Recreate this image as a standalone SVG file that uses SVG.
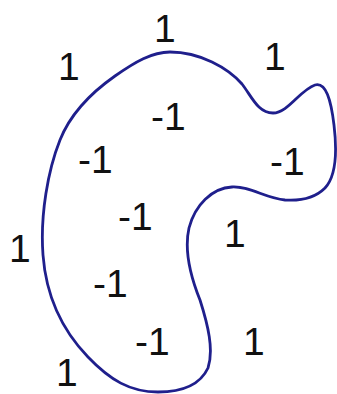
<svg xmlns="http://www.w3.org/2000/svg" width="337" height="394" viewBox="0 0 337 394">
<style>
.lbl{font-family:"Liberation Sans",sans-serif;font-size:39px;fill:#111}
.curve{fill:none;stroke:#1f1f8c;stroke-width:2.8;stroke-linejoin:round}
</style>
<rect width="337" height="394" fill="#ffffff"/>
<g id="connectors">
<path id="boundary" class="curve" d="M170,52 C200,52 228,68 242,84 C252,97 258,113 273,113 C288,113 300,90 315,85 C326,82 331,100 334,125 C337,150 337,175 325,188 C315,198 300,201 285,200 C265,198 250,186 232,187 C212,188 195,205 189,228 C184,250 190,275 200,300 C208,325 214,350 208,368 C200,385 182,392 158,392 C130,392 110,380 88,357 C62,330 46,295 43,255 C40,215 48,170 60,140 C72,110 95,90 115,76 C135,62 152,52 170,52 Z"/>
</g>
<g id="n1"><text class="lbl" x="154" y="42">1</text></g>
<g id="n2"><text class="lbl" x="58" y="80">1</text></g>
<g id="n3"><text class="lbl" x="264" y="70">1</text></g>
<g id="n4"><text class="lbl" x="151" y="130">-1</text></g>
<g id="n5"><text class="lbl" x="78" y="173">-1</text></g>
<g id="n6"><text class="lbl" x="270" y="175">-1</text></g>
<g id="n7"><text class="lbl" x="118" y="230">-1</text></g>
<g id="n8"><text class="lbl" x="224" y="247">1</text></g>
<g id="n9"><text class="lbl" x="9" y="262">1</text></g>
<g id="n10"><text class="lbl" x="93" y="297">-1</text></g>
<g id="n11"><text class="lbl" x="135" y="355">-1</text></g>
<g id="n12"><text class="lbl" x="243" y="355">1</text></g>
<g id="n13"><text class="lbl" x="56" y="386">1</text></g>
</svg>
